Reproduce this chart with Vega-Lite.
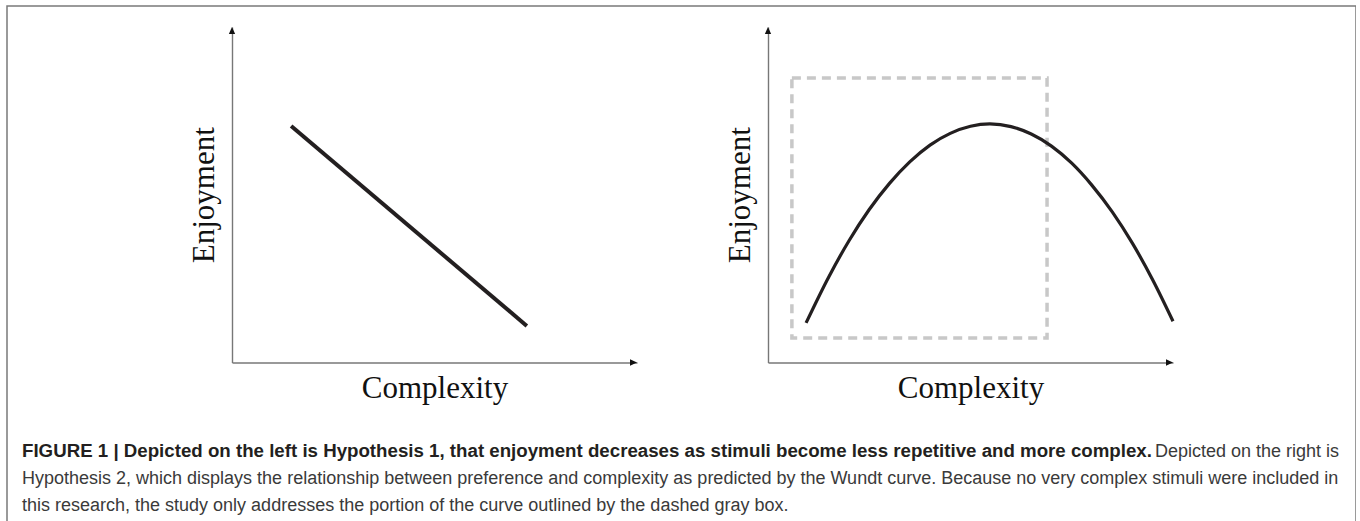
{
  "$schema": "https://vega.github.io/schema/vega-lite/v6.json",
  "width": 1349,
  "height": 516,
  "autosize": {"type": "none"},
  "padding": {"left": 7, "top": 6, "right": 0, "bottom": 0},
  "background": "white",
  "config": {
    "view": {"stroke": "#7a7a7a", "strokeWidth": 1.5},
    "axis": {
      "domainColor": "#777777",
      "domainWidth": 1.4,
      "ticks": false,
      "labels": false,
      "grid": false,
      "minExtent": 0,
      "maxExtent": 0,
      "titleFont": "Liberation Serif",
      "titleFontSize": 31,
      "titleFontWeight": "normal",
      "titleColor": "#111111"
    }
  },
  "datasets": {
    "hyp1": [
      {"complexity": 1.46, "enjoyment": 7.05},
      {"complexity": 7.28, "enjoyment": 1.09}
    ],
    "hyp2": [
      {"complexity": 0.94, "enjoyment": 1.18},
      {"complexity": 1.5, "enjoyment": 2.55},
      {"complexity": 2.0, "enjoyment": 3.63},
      {"complexity": 2.5, "enjoyment": 4.56},
      {"complexity": 3.0, "enjoyment": 5.34},
      {"complexity": 3.5, "enjoyment": 5.98},
      {"complexity": 4.0, "enjoyment": 6.48},
      {"complexity": 4.5, "enjoyment": 6.83},
      {"complexity": 5.0, "enjoyment": 7.04},
      {"complexity": 5.48, "enjoyment": 7.11},
      {"complexity": 6.0, "enjoyment": 7.03},
      {"complexity": 6.5, "enjoyment": 6.81},
      {"complexity": 7.0, "enjoyment": 6.45},
      {"complexity": 7.5, "enjoyment": 5.94},
      {"complexity": 8.0, "enjoyment": 5.28},
      {"complexity": 8.5, "enjoyment": 4.49},
      {"complexity": 9.0, "enjoyment": 3.55},
      {"complexity": 9.5, "enjoyment": 2.46},
      {"complexity": 10.0, "enjoyment": 1.23}
    ],
    "studied": [
      {"cmin": 0.59, "cmax": 6.89, "emin": 0.73, "emax": 8.48}
    ],
    "arrows": [
      {"complexity": 0, "enjoyment": 10, "dir": "up"},
      {"complexity": 10, "enjoyment": 0, "dir": "right"}
    ],
    "caption": [
      {"line": 1, "segment": 1, "part": "title", "text": "FIGURE 1 | Depicted on the left is Hypothesis 1, that enjoyment decreases as stimuli become less repetitive and more complex."},
      {"line": 1, "segment": 2, "part": "body", "text": "Depicted on the right is"},
      {"line": 2, "segment": 1, "part": "body", "text": "Hypothesis 2, which displays the relationship between preference and complexity as predicted by the Wundt curve. Because no very complex stimuli were included in"},
      {"line": 3, "segment": 1, "part": "body", "text": "this research, the study only addresses the portion of the curve outlined by the dashed gray box."}
    ]
  },
  "layer": [
    {
      "layer": [
        {
          "data": {"name": "hyp1"},
          "mark": {"type": "line", "color": "#231f20", "strokeWidth": 4, "strokeCap": "butt"},
          "encoding": {
            "x": {"field": "complexity", "type": "quantitative",
                  "scale": {"domain": [0, 10], "range": [225, 630]},
                  "axis": {"orient": "bottom", "offset": -159.5, "title": "Complexity", "titleBaseline": "alphabetic", "titlePadding": 35}},
            "y": {"field": "enjoyment", "type": "quantitative",
                  "scale": {"domain": [0, 10], "range": [356.5, 21]},
                  "axis": {"orient": "left", "offset": -225, "title": "Enjoyment", "titleBaseline": "alphabetic", "titlePadding": 19}}
          }
        },
        {
          "data": {"name": "arrows"},
          "mark": {"type": "point", "filled": true, "opacity": 1, "color": "#111111", "size": 196, "strokeWidth": 0},
          "encoding": {
            "x": {"field": "complexity", "type": "quantitative"},
            "y": {"field": "enjoyment", "type": "quantitative"},
            "shape": {"field": "dir", "type": "nominal",
                      "scale": {"domain": ["up", "right"], "range": ["M0,0L-0.45,1L0.45,1Z", "M0,0L-1,-0.45L-1,0.45Z"]},
                      "legend": null}
          }
        }
      ]
    },
    {
      "layer": [
        {
          "data": {"name": "studied"},
          "mark": {"type": "rect", "fill": null, "fillOpacity": 0, "stroke": "#c8c8c8", "strokeWidth": 3.5, "strokeDash": [9, 6]},
          "encoding": {
            "x": {"field": "cmin", "type": "quantitative",
                  "scale": {"domain": [0, 10], "range": [761, 1166]},
                  "axis": {"orient": "bottom", "offset": -159.5, "title": "Complexity", "titleBaseline": "alphabetic", "titlePadding": 35}},
            "x2": {"field": "cmax"},
            "y": {"field": "emin", "type": "quantitative",
                  "scale": {"domain": [0, 10], "range": [356.5, 21]},
                  "axis": {"orient": "left", "offset": -761, "title": "Enjoyment", "titleBaseline": "alphabetic", "titlePadding": 19}},
            "y2": {"field": "emax"}
          }
        },
        {
          "data": {"name": "hyp2"},
          "mark": {"type": "line", "color": "#231f20", "strokeWidth": 3.2, "strokeCap": "butt", "interpolate": "monotone"},
          "encoding": {
            "x": {"field": "complexity", "type": "quantitative"},
            "y": {"field": "enjoyment", "type": "quantitative"}
          }
        },
        {
          "data": {"name": "arrows"},
          "mark": {"type": "point", "filled": true, "opacity": 1, "color": "#111111", "size": 196, "strokeWidth": 0},
          "encoding": {
            "x": {"field": "complexity", "type": "quantitative"},
            "y": {"field": "enjoyment", "type": "quantitative"},
            "shape": {"field": "dir", "type": "nominal",
                      "scale": {"domain": ["up", "right"], "range": ["M0,0L-0.45,1L0.45,1Z", "M0,0L-1,-0.45L-1,0.45Z"]},
                      "legend": null}
          }
        }
      ]
    },
    {
      "data": {"name": "caption"},
      "encoding": {
        "x": {"field": "segment", "type": "ordinal",
              "scale": {"type": "point", "domain": [1, 2], "range": [15, 1332], "padding": 0},
              "axis": null},
        "y": {"field": "line", "type": "ordinal",
              "scale": {"type": "point", "domain": [1, 2, 3], "range": [451, 505], "padding": 0},
              "axis": null},
        "text": {"field": "text"}
      },
      "layer": [
        {
          "transform": [{"filter": "datum.part === 'title'"}],
          "mark": {"type": "text", "align": "left", "baseline": "alphabetic", "font": "Liberation Sans", "fontSize": 18.7, "fontWeight": "bold", "color": "#231f20"}
        },
        {
          "transform": [{"filter": "datum.part === 'body' && datum.segment === 1"}],
          "mark": {"type": "text", "align": "left", "baseline": "alphabetic", "font": "Liberation Sans", "fontSize": 18, "color": "#3a3a3a"}
        },
        {
          "transform": [{"filter": "datum.part === 'body' && datum.segment === 2"}],
          "mark": {"type": "text", "align": "right", "baseline": "alphabetic", "font": "Liberation Sans", "fontSize": 18, "color": "#3a3a3a"}
        }
      ]
    }
  ],
  "resolve": {"scale": {"x": "independent", "y": "independent", "shape": "independent"}}
}
